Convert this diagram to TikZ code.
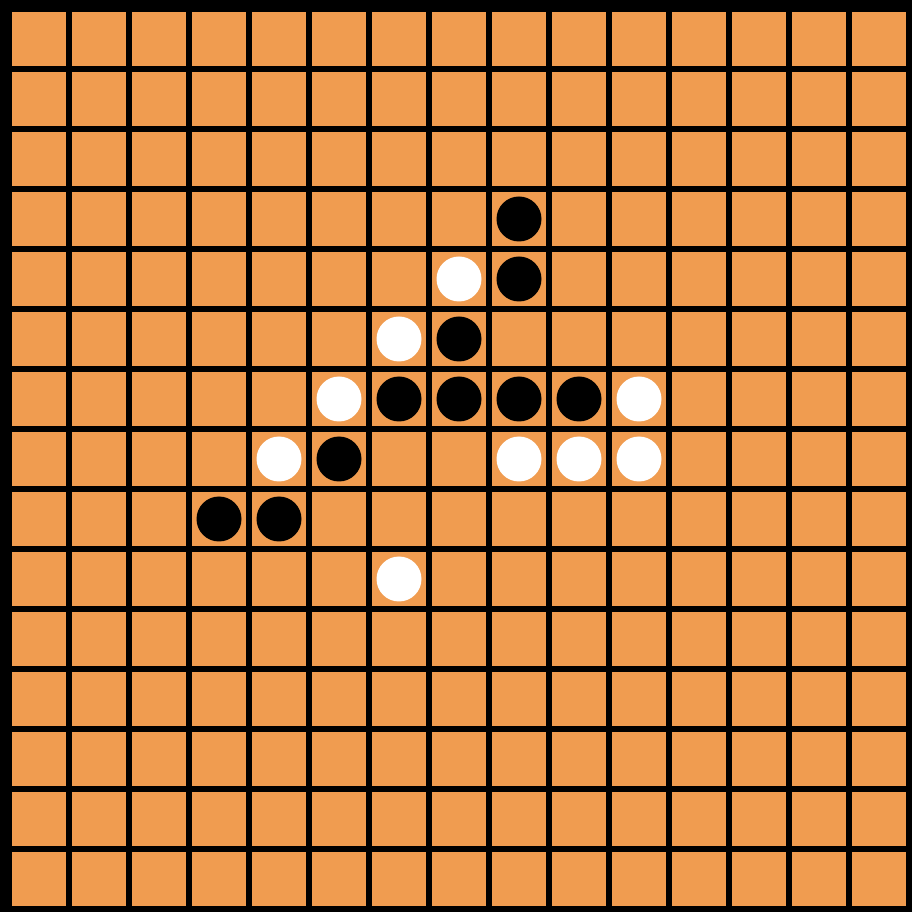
\documentclass[tikz,border=0pt]{standalone}
\usepackage{tikz}
\usepackage{xcolor}
\definecolor{boardorange}{RGB}{240,156,80}
\definecolor{gridblack}{RGB}{0,0,0}
\definecolor{stonewhite}{RGB}{255,255,255}

\begin{document}
\begin{tikzpicture}[
    cell/.style={fill=boardorange},
    blackstone/.style={fill=gridblack},
    whitestone/.style={fill=stonewhite}
]

% Board background (grid lines show through)
\fill[gridblack] (0,0) rectangle (15.2,15.2);
\useasboundingbox (0,0) rectangle (15.2,15.2);

% 15 x 15 cells
\foreach \c in {0,...,14} {
    \foreach \r in {0,...,14} {
        \fill[cell] ({0.2+\c}, {14.1-\r}) rectangle ({1.1+\c}, {15.0-\r});
    }
}

% Black stones (column, row from top)
\foreach \c/\r in {8/3, 8/4, 7/5, 6/6, 7/6, 8/6, 9/6, 5/7, 3/8, 4/8} {
    \fill[blackstone] ({0.65+\c}, {14.55-\r}) circle (0.375);
}

% White stones (column, row from top)
\foreach \c/\r in {7/4, 6/5, 5/6, 10/6, 4/7, 8/7, 9/7, 10/7, 6/9} {
    \fill[whitestone] ({0.65+\c}, {14.55-\r}) circle (0.375);
}

\end{tikzpicture}
\end{document}
